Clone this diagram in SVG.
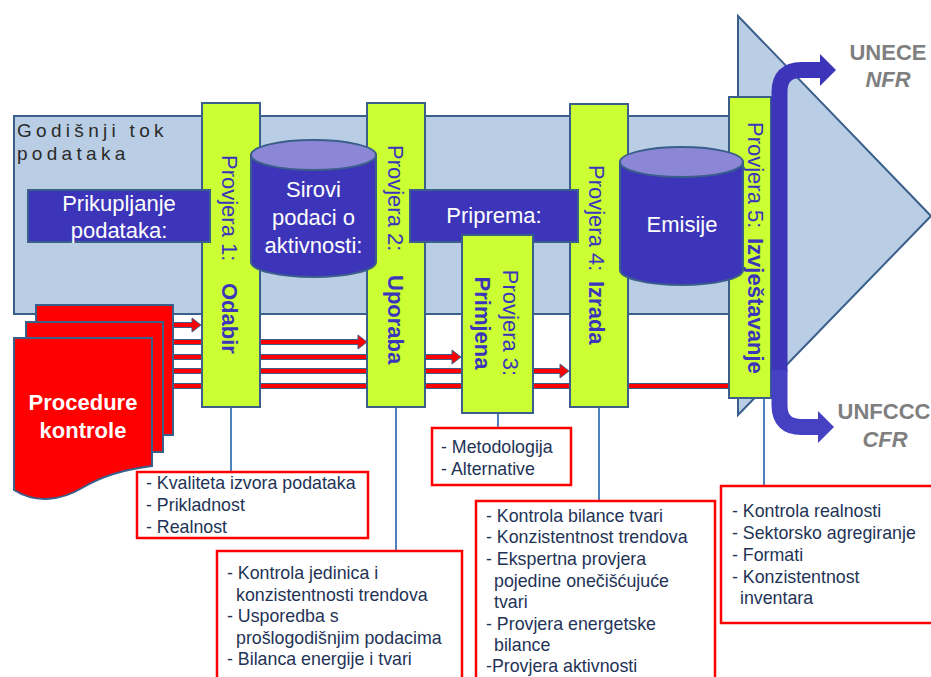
<svg xmlns="http://www.w3.org/2000/svg" width="931" height="677" viewBox="0 0 931 677">
<style>
text{font-family:"Liberation Sans",Arial,sans-serif}
.body{fill:#b9cde5;stroke:#3a5f8a;stroke-width:2}
.chk{fill:#ccff33;stroke:#3a5f8a;stroke-width:2}
.dk{fill:#3d35b9;stroke:#3a5f8a;stroke-width:2}
.ctop{fill:#8b86d5;stroke:#3a5f8a;stroke-width:2}
.wt{fill:#ffffff;font-size:22px}
.ck{fill:#3d35b9;font-size:22px}
.b{font-weight:bold}
.rl{fill:#ff0000;stroke:#3a5f8a;stroke-width:1}
.page{fill:#ff0000;stroke:#3a5f8a;stroke-width:2}
.vl{stroke:#4f81bd;stroke-width:2;fill:none}
.rbox{fill:#ffffff;stroke:#ff0000;stroke-width:2.5}
.bt{font-size:17.8px;fill:#233356}
.org{font-size:22px;font-weight:bold;fill:#7f7f7f;text-anchor:middle}
.ba{fill:none;stroke-width:16}
</style>

<g id="flow-arrow">
  <polygon class="body" points="14,116 738,116 738,16 931,216 738,415 738,314 14,314"/>
  <text x="17" y="137" font-size="19" letter-spacing="4.3" fill="#2a2a2a">Godišnji tok</text>
  <text x="17" y="160" font-size="19" letter-spacing="4.3" fill="#2a2a2a">podataka</text>
</g>

<g id="connectors">
  <polygon class="rl" points="170,322.5 192,322.5 192,318 201,325 192,332 192,327.5 170,327.5"/>
  <polygon class="rl" points="170,339.5 358,339.5 358,335 367,342 358,349 358,344.5 170,344.5"/>
  <polygon class="rl" points="170,354.5 452,354.5 452,350 461,357 452,364 452,359.5 170,359.5"/>
  <polygon class="rl" points="170,368.5 560,368.5 560,364 569,371 560,378 560,373.5 170,373.5"/>
  <polygon class="rl" points="170,383.5 729,383.5 729,388.5 170,388.5"/>
  <line class="vl" x1="231" y1="407" x2="231" y2="472"/>
  <line class="vl" x1="396" y1="407" x2="396" y2="551"/>
  <line class="vl" x1="498" y1="413" x2="498" y2="428"/>
  <line class="vl" x1="599" y1="407" x2="599" y2="501"/>
  <line class="vl" x1="764" y1="398" x2="764" y2="486"/>
</g>

<g id="procedure-kontrole">
  <rect class="page" x="36" y="305" width="137" height="130"/>
  <rect class="page" x="26" y="322" width="137" height="130"/>
  <path class="page" d="M14,338 H152 V466 C126,469 102,476 82,488 C62,500 36,504 14,490 Z"/>
  <text class="wt b" x="83" y="410" text-anchor="middle">Procedure</text>
  <text class="wt b" x="83" y="438" text-anchor="middle">kontrole</text>
</g>

<g id="provjera1">
  <rect class="chk" x="202" y="103" width="58" height="304"/>
  <text class="ck" transform="translate(222,155) rotate(90)">Provjera 1:<tspan x="128" class="b">Odabir</tspan></text>
</g>
<g id="provjera2">
  <rect class="chk" x="367" y="103" width="58" height="304"/>
  <text class="ck" transform="translate(388,145) rotate(90)">Provjera 2:<tspan x="130" class="b">Uporaba</tspan></text>
</g>
<g id="provjera4">
  <rect class="chk" x="570" y="104" width="58" height="303"/>
  <text class="ck" transform="translate(589,165) rotate(90)">Provjera 4:<tspan x="116" class="b">Izrada</tspan></text>
</g>
<g id="provjera5">
  <rect class="chk" x="729" y="97" width="42" height="301"/>
  <text class="ck" transform="translate(748,122) rotate(90)">Provjera 5:<tspan x="116" class="b">Izvještavanje</tspan></text>
</g>

<g id="sirovi-podaci">
  <path class="dk" d="M251,155 V262 A62.5,15 0 0 0 376,262 V155 Z"/>
  <ellipse class="ctop" cx="313.5" cy="155" rx="62.5" ry="15"/>
  <text class="wt" x="313.5" y="197" text-anchor="middle">Sirovi</text>
  <text class="wt" x="313.5" y="225" text-anchor="middle">podaci o</text>
  <text class="wt" x="313.5" y="253" text-anchor="middle">aktivnosti:</text>
</g>
<g id="emisije">
  <path class="dk" d="M620,162 V270 A61.5,15 0 0 0 743,270 V162 Z"/>
  <ellipse class="ctop" cx="681.5" cy="162" rx="61.5" ry="15"/>
  <text class="wt" x="682" y="232" text-anchor="middle">Emisije</text>
</g>

<g id="prikupljanje">
  <rect class="dk" x="28" y="190" width="182" height="52"/>
  <text class="wt" x="119" y="211" text-anchor="middle">Prikupljanje</text>
  <text class="wt" x="119" y="238" text-anchor="middle">podataka:</text>
</g>
<g id="priprema">
  <rect class="dk" x="410" y="190" width="168" height="52"/>
  <text class="wt" x="494" y="223" text-anchor="middle">Priprema:</text>
</g>

<g id="provjera3">
  <rect class="chk" x="462" y="235" width="71" height="178"/>
  <text class="ck" transform="translate(503,323) rotate(90)" text-anchor="middle">Provjera 3:</text>
  <text class="ck b" transform="translate(475,323) rotate(90)" text-anchor="middle">Primjena</text>
</g>

<g id="out-unece">
  <path class="ba" stroke="#3d35b9" d="M779.5,372 V92 Q779.5,70 801.5,70 H822"/>
  <polygon fill="#3d35b9" points="820,54 836,70 820,86"/>
  <text class="org" x="888" y="60">UNECE</text>
  <text class="org" x="888" y="87" font-style="italic">NFR</text>
</g>
<g id="out-unfccc">
  <path class="ba" stroke="#4640c2" d="M779.5,370 V405 Q779.5,427 801.5,427 H820"/>
  <polygon fill="#4640c2" points="818,411 834,427 818,443"/>
  <text class="org" x="884" y="419">UNFCCC</text>
  <text class="org" x="885" y="447" font-style="italic">CFR</text>
</g>

<g id="note1">
  <rect class="rbox" x="137" y="472" width="231" height="66"/>
  <text class="bt" x="146" y="489">- Kvaliteta izvora podataka</text>
  <text class="bt" x="146" y="511">- Prikladnost</text>
  <text class="bt" x="146" y="533">- Realnost</text>
</g>
<g id="note2">
  <rect class="rbox" x="217" y="551" width="245" height="140"/>
  <text class="bt" x="227" y="579">- Kontrola jedinica i</text>
  <text class="bt" x="236" y="601">konzistentnosti trendova</text>
  <text class="bt" x="227" y="622">- Usporedba s</text>
  <text class="bt" x="236" y="644">prošlogodišnjim podacima</text>
  <text class="bt" x="227" y="665">- Bilanca energije i tvari</text>
</g>
<g id="note3">
  <rect class="rbox" x="432" y="428" width="139" height="57"/>
  <text class="bt" x="441" y="453">- Metodologija</text>
  <text class="bt" x="441" y="475">- Alternative</text>
</g>
<g id="note4">
  <rect class="rbox" x="476" y="501" width="239" height="190"/>
  <text class="bt" x="486" y="522">- Kontrola bilance tvari</text>
  <text class="bt" x="486" y="543">- Konzistentnost trendova</text>
  <text class="bt" x="486" y="565">- Ekspertna provjera</text>
  <text class="bt" x="494" y="587">pojedine onečišćujuće</text>
  <text class="bt" x="494" y="608">tvari</text>
  <text class="bt" x="486" y="630">- Provjera energetske</text>
  <text class="bt" x="494" y="651">bilance</text>
  <text class="bt" x="486" y="672">-Provjera aktivnosti</text>
</g>
<g id="note5">
  <rect class="rbox" x="721" y="486" width="220" height="137"/>
  <text class="bt" x="732" y="517">- Kontrola realnosti</text>
  <text class="bt" x="732" y="539">- Sektorsko agregiranje</text>
  <text class="bt" x="732" y="561">- Formati</text>
  <text class="bt" x="732" y="583">- Konzistentnost</text>
  <text class="bt" x="740" y="604">inventara</text>
</g>
</svg>
